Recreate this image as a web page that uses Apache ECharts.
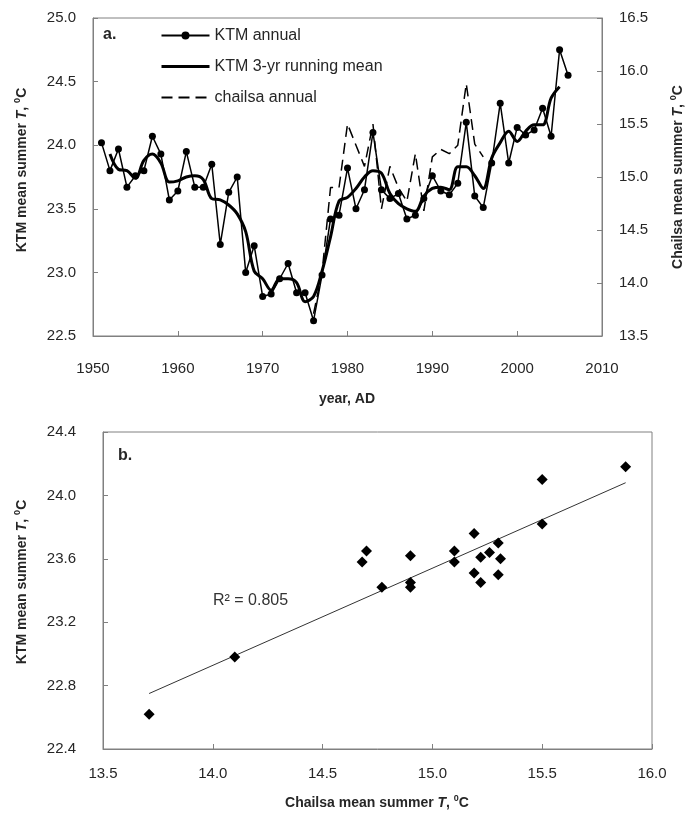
<!DOCTYPE html>
<html>
<head>
<meta charset="utf-8">
<script src="https://cdn.jsdelivr.net/npm/echarts@6/dist/echarts.min.js"></script>
<style>
  html, body { margin: 0; padding: 0; background: #fff; }
  #main { width: 689px; height: 818px; }
</style>
</head>
<body>
<div id="main"></div>
<script>
// panel a: KTM summer temperature by year
var years = [1951, 1952, 1953, 1954, 1955, 1956, 1957, 1958, 1959, 1960,
  1961, 1962, 1963, 1964, 1965, 1966, 1967, 1968, 1969, 1970,
  1971, 1972, 1973, 1974, 1975, 1976, 1977, 1978, 1979, 1980,
  1981, 1982, 1983, 1984, 1985, 1986, 1987, 1988, 1989, 1990,
  1991, 1992, 1993, 1994, 1995, 1996, 1997, 1998, 1999, 2000,
  2001, 2002, 2003, 2004, 2005, 2006];
var ktmAnnual = [24.02, 23.80, 23.97, 23.67, 23.76, 23.80, 24.07, 23.93, 23.57, 23.64,
  23.95, 23.67, 23.67, 23.85, 23.22, 23.63, 23.75, 23.00, 23.21, 22.81,
  22.83, 22.95, 23.07, 22.84, 22.84, 22.62, 22.98, 23.42, 23.45, 23.82,
  23.50, 23.65, 24.10, 23.65, 23.58, 23.62, 23.42, 23.45, 23.58, 23.76,
  23.64, 23.61, 23.70, 24.18, 23.60, 23.51, 23.86, 24.33, 23.86, 24.14,
  24.08, 24.12, 24.29, 24.07, 24.75, 24.55];
// 3-yr running mean, same years as above
var ktmRunMean = [null, 23.93, 23.81, 23.80, 23.74, 23.88, 23.93, 23.86, 23.71, 23.72,
  23.75, 23.76, 23.73, 23.58, 23.57, 23.53, 23.46, 23.32, 23.01, 22.95,
  22.86, 22.95, 22.95, 22.92, 22.77, 22.81, 23.01, 23.28, 23.56, 23.59,
  23.66, 23.75, 23.80, 23.78, 23.62, 23.54, 23.50, 23.48, 23.60, 23.66,
  23.67, 23.65, 23.83, 23.83, 23.76, 23.66, 23.90, 24.02, 24.11, 24.03,
  24.11, 24.16, 24.16, 24.37, 24.46, null];
var chailsaYears = [1976, 1977, 1978, 1979, 1980, 1981, 1982, 1983, 1984, 1985,
  1986, 1987, 1988, 1989, 1990, 1991, 1992, 1993, 1994, 1995, 1996];
var chailsaAnnual = [13.71, 14.10, 14.90, 14.90, 15.50, 15.30, 15.10, 15.50, 14.70, 15.10,
  14.90, 14.77, 15.22, 14.68, 15.19, 15.26, 15.22, 15.30, 15.88, 15.31, 15.19];

// panel b: linear fit drawn end to end
var trendX = [13.71, 15.88];
var trendY = [22.75, 24.08];

var FONT = '"Liberation Sans", Arial, sans-serif';
var AXIS_GRAY = '#808080';
var TXT = '#262626';

var annualPts = years.map(function (y, i) { return [y, ktmAnnual[i]]; });
var meanPts = years.map(function (y, i) { return [y, ktmRunMean[i]]; });
var chailsaPts = chailsaYears.map(function (y, i) { return [y, chailsaAnnual[i]]; });
var scatterPts = chailsaYears.map(function (y, i) {
  return [chailsaAnnual[i], ktmAnnual[years.indexOf(y)]];
});
var trendPts = trendX.map(function (x, i) { return [x, trendY[i]]; });

function valAxis(extra) {
  var a = {
    type: 'value',
    axisLine: { show: true, lineStyle: { color: AXIS_GRAY, width: 1 } },
    axisTick: { show: true, inside: true, length: 5, lineStyle: { color: AXIS_GRAY } },
    splitLine: { show: false },
    axisLabel: { fontFamily: FONT, fontSize: 15, color: TXT }
  };
  for (var k in extra) {
    if (k === 'axisLabel') {
      for (var j in extra[k]) a.axisLabel[j] = extra[k][j];
    } else {
      a[k] = extra[k];
    }
  }
  return a;
}

function one(v) { return v.toFixed(1); }
function plain(v) { return String(v); }

function titleText(x, y, pre, rot) {
  return {
    type: 'text',
    x: x, y: y,
    rotation: rot || 0,
    style: {
      text: '{n|' + pre + '}{i|T}{n|, }{s|0}{n|C}',
      align: 'center',
      verticalAlign: 'middle',
      rich: {
        n: { fontFamily: FONT, fontSize: 14, fontWeight: 'bold', fill: TXT, lineHeight: 18 },
        i: { fontFamily: FONT, fontSize: 14, fontWeight: 'bold', fontStyle: 'italic', fill: TXT, lineHeight: 18 },
        s: { fontFamily: FONT, fontSize: 9, fontWeight: 'bold', fill: TXT, verticalAlign: 'top', lineHeight: 12 }
      }
    }
  };
}

var chart = echarts.init(document.getElementById('main'), null, { renderer: 'canvas' });

var option = {
  backgroundColor: '#fff',
  animation: false,
  grid: [
    { left: 93, top: 18, width: 509, height: 318, show: true, borderColor: AXIS_GRAY, borderWidth: 1 },
    { left: 103, top: 432, width: 549, height: 317, show: true, borderColor: AXIS_GRAY, borderWidth: 1 }
  ],
  legend: {
    data: [
      { name: 'KTM annual' },
      { name: 'KTM 3-yr running mean', itemStyle: { opacity: 0 }, lineStyle: { width: 3 } },
      { name: 'chailsa annual', itemStyle: { opacity: 0 } }
    ],
    orient: 'vertical',
    left: 160,
    top: 27,
    padding: 0,
    itemWidth: 48,
    itemHeight: 10,
    itemGap: 14,
    textStyle: { fontFamily: FONT, fontSize: 16, color: TXT, lineHeight: 17 }
  },
  xAxis: [
    valAxis({ gridIndex: 0, min: 1950, max: 2010, interval: 10, axisLabel: { margin: 25, formatter: plain } }),
    valAxis({ gridIndex: 1, min: 13.5, max: 16, interval: 0.5, axisLabel: { margin: 17, formatter: one } })
  ],
  yAxis: [
    valAxis({ gridIndex: 0, min: 22.5, max: 25, interval: 0.5, axisLabel: { margin: 17, formatter: one } }),
    valAxis({ gridIndex: 0, position: 'right', min: 13.5, max: 16.5, interval: 0.5, axisLabel: { margin: 17, formatter: one } }),
    valAxis({ gridIndex: 1, min: 22.4, max: 24.4, interval: 0.4, axisLabel: { margin: 27, formatter: one } })
  ],
  series: [
    {
      name: 'KTM annual',
      type: 'line',
      xAxisIndex: 0, yAxisIndex: 0,
      data: annualPts,
      symbol: 'circle',
      symbolSize: 7,
      itemStyle: { color: '#000' },
      lineStyle: { color: '#000', width: 1.5 },
      z: 3
    },
    {
      name: 'KTM 3-yr running mean',
      type: 'line',
      xAxisIndex: 0, yAxisIndex: 0,
      data: meanPts,
      showSymbol: false,
      symbol: 'none',
      smooth: 0.35,
      connectNulls: false,
      itemStyle: { color: '#000' },
      lineStyle: { color: '#000', width: 3 },
      z: 4
    },
    {
      name: 'chailsa annual',
      type: 'line',
      xAxisIndex: 0, yAxisIndex: 1,
      data: chailsaPts,
      showSymbol: false,
      symbol: 'none',
      itemStyle: { color: '#000' },
      lineStyle: { color: '#000', width: 1.5, type: [11, 6] },
      z: 2
    },
    {
      name: 'fit',
      type: 'line',
      xAxisIndex: 1, yAxisIndex: 2,
      data: trendPts,
      showSymbol: false,
      symbol: 'none',
      lineStyle: { color: '#333', width: 1 },
      z: 2
    },
    {
      name: 'KTM vs chailsa',
      type: 'scatter',
      xAxisIndex: 1, yAxisIndex: 2,
      data: scatterPts,
      symbol: 'diamond',
      symbolSize: 11,
      itemStyle: { color: '#000', opacity: 1 },
      z: 3
    }
  ],
  graphic: [
    titleText(22, 170, 'KTM mean summer ', Math.PI / 2),
    titleText(678, 177, 'Chailsa mean summer ', Math.PI / 2),
    titleText(22, 582, 'KTM mean summer ', Math.PI / 2),
    titleText(377, 803, 'Chailsa mean summer ', 0),
    {
      type: 'text', x: 347, y: 399,
      style: { text: 'year, AD', fontFamily: FONT, fontSize: 14, fontWeight: 'bold', fill: TXT, align: 'center', verticalAlign: 'middle' }
    },
    {
      type: 'text', x: 103, y: 35,
      style: { text: 'a.', fontFamily: FONT, fontSize: 16, fontWeight: 'bold', fill: TXT, align: 'left', verticalAlign: 'middle' }
    },
    {
      type: 'text', x: 118, y: 456,
      style: { text: 'b.', fontFamily: FONT, fontSize: 16, fontWeight: 'bold', fill: TXT, align: 'left', verticalAlign: 'middle' }
    },
    {
      type: 'text', x: 213, y: 601,
      style: { text: 'R\u00b2 = 0.805', fontFamily: FONT, fontSize: 16, fill: '#333', align: 'left', verticalAlign: 'middle' }
    }
  ]
};

chart.setOption(option);
</script>
</body>
</html>
